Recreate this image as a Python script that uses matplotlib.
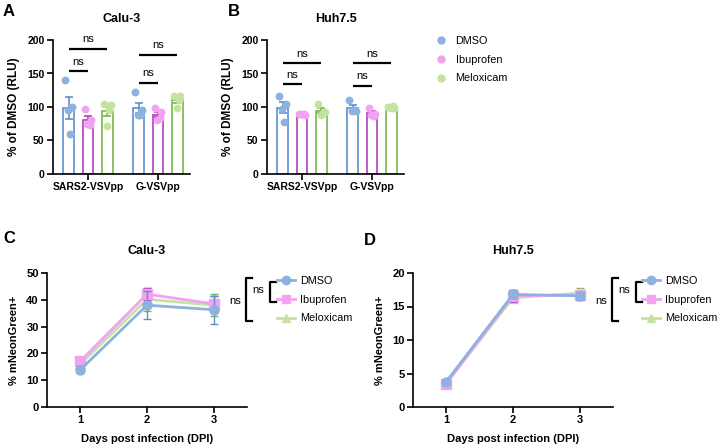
import numpy as np
import matplotlib
matplotlib.use("Agg")
import matplotlib.pyplot as plt
from matplotlib.lines import Line2D

plt.rcParams['font.family'] = ['Liberation Sans', 'DejaVu Sans']

# ---- datos ----
treatments = ["DMSO", "Ibuprofen", "Meloxicam"]
groups = ["SARS2-VSVpp", "G-VSVpp"]

# puntos individuales (% of DMSO, RLU), [DMSO, Ibuprofen, Meloxicam]
calu3_sars2 = [[140, 100, 96, 60], [97, 80, 75, 73], [104, 103, 72, 95]]
calu3_g = [[122, 96, 88, 88], [98, 92, 80, 84], [116, 116, 98, 111]]
huh_sars2 = [[117, 105, 97, 78], [89, 88, 89, 90], [105, 93, 88, 91]]
huh_g = [[111, 94, 94, 96], [99, 89, 88, 87], [100, 99, 98, 102]]

# alturas de las lineas de significancia [largo, corto] por grupo
calu3_sig = [[187, 153], [178, 136]]
huh_sig = [[165, 134], [165, 132]]

days = [1, 2, 3]
calu3_dmso = [13.9, 38.0, 36.3]
calu3_dmso_err = [1.3, 5.3, 5.3]
calu3_ibu = [17.1, 42.1, 38.5]
calu3_ibu_err = [1.5, 2.2, 3.0]
calu3_melox = [16.0, 40.2, 38.0]
calu3_melox_err = [2.8, 4.3, 4.1]

huh_dmso = [3.8, 16.8, 16.6]
huh_dmso_err = [0.3, 0.6, 0.6]
huh_ibu = [3.5, 16.6, 16.7]
huh_ibu_err = [0.3, 0.9, 0.6]
huh_melox = [3.6, 16.3, 17.0]
huh_melox_err = [0.3, 0.7, 0.7]

# ---- estilo ----
light = ["#8db2e0", "#f2a2f0", "#c4e3a0"]
dark = ["#5d8fcc", "#b040bf", "#76b84a"]
markers = ["o", "s", "^"]
jitter = [-0.16, 0.16, -0.04, 0.1]
W, H = 720, 444


def fig_xy(x, y):
    return x / W, 1 - y / H


def style_axes(ax, size):
    for s in ["top", "right"]:
        ax.spines[s].set_visible(False)
    for s in ["left", "bottom"]:
        ax.spines[s].set_linewidth(1.2)
    ax.tick_params(width=1.2, length=4, labelsize=size, pad=2)
    for lab in ax.get_xticklabels() + ax.get_yticklabels():
        lab.set_fontweight("bold")


def bar_panel(ax, data_groups, sig, title):
    centers = [0, 3.6]
    for gi, g in enumerate(data_groups):
        for ti, pts in enumerate(g):
            x = centers[gi] + (ti - 1)
            pts = np.array(pts, dtype=float)
            m = pts.mean()
            sem = pts.std(ddof=1) / np.sqrt(len(pts))
            ax.bar(x, m, width=0.53, facecolor="white", edgecolor=dark[ti], linewidth=1.2, zorder=2)
            ax.errorbar(x, m, yerr=sem, color=dark[ti], capsize=3, capthick=1.2, elinewidth=1.2, zorder=3)
            ax.scatter(x + np.array(jitter), pts, s=32, color=light[ti], zorder=4, linewidths=0)
        x0 = centers[gi] - 1
        for h, x1 in zip(sig[gi], [centers[gi] + 1, centers[gi]]):
            ax.plot([x0, x1], [h, h], color="black", lw=1.6, solid_capstyle="butt", clip_on=False)
            ax.text((x0 + x1) / 2, h + 7, "ns", ha="center", va="bottom", fontsize=8)
    ax.set_xlim(-1.8, 5.25)
    ax.set_ylim(0, 200)
    ax.set_yticks([0, 50, 100, 150, 200])
    ax.set_xticks(centers)
    ax.set_xticklabels(groups)
    ax.set_ylabel("% of DMSO (RLU)", fontsize=8.5, fontweight="bold", labelpad=5)
    ax.set_title(title, fontsize=9, fontweight="bold", pad=13)
    style_axes(ax, 7.5)


def line_panel(ax, vals, errs, ylim, yticks, title):
    for i in [2, 1, 0]:
        ax.errorbar(days, vals[i], yerr=errs[i], color=light[i], ecolor=dark[i], marker=markers[i],
                    markersize=6.5, lw=2, elinewidth=1, capsize=3, capthick=1, label=treatments[i],
                    zorder=3 + (2 - i))
    ax.set_xlim(0.5, 3.5)
    ax.set_ylim(*ylim)
    ax.set_yticks(yticks)
    ax.set_xticks(days)
    ax.set_xlabel("Days post infection (DPI)", fontsize=8, fontweight="bold", labelpad=6)
    ax.set_ylabel("% mNeonGreen+", fontsize=8, fontweight="bold", labelpad=5)
    ax.set_title(title, fontsize=9, fontweight="bold", pad=14)
    style_axes(ax, 8)


def brackets(fig, xo):
    # corchetes de significancia al lado de la leyenda (pixeles de figura)
    kw = dict(color="black", lw=1.6, transform=fig.transFigure)
    for xs, ys in [([276 + xo, 270 + xo, 270 + xo, 276 + xo], [282, 282, 302, 302]),
                   ([252 + xo, 246 + xo, 246 + xo, 252 + xo], [278, 278, 321, 321])]:
        pts = [fig_xy(a, b) for a, b in zip(xs, ys)]
        fig.add_artist(Line2D([p[0] for p in pts], [p[1] for p in pts], **kw))
    fig.text(*fig_xy(258 + xo, 290), "ns", ha="center", va="center", fontsize=8)
    fig.text(*fig_xy(235 + xo, 301), "ns", ha="center", va="center", fontsize=8)


fig = plt.figure(figsize=(7.2, 4.44), dpi=100)

ax_a = fig.add_axes([53 / W, 1 - 174 / H, 137 / W, 134 / H])
ax_b = fig.add_axes([267 / W, 1 - 174 / H, 137 / W, 134 / H])
ax_c = fig.add_axes([47 / W, 1 - 407 / H, 200 / W, 134 / H])
ax_d = fig.add_axes([413 / W, 1 - 407 / H, 200 / W, 134 / H])

bar_panel(ax_a, [calu3_sars2, calu3_g], calu3_sig, "Calu-3")
bar_panel(ax_b, [huh_sars2, huh_g], huh_sig, "Huh7.5")

handles = [Line2D([], [], ls="", marker="o", markersize=5, color=c) for c in light]
fig.legend(handles, treatments, loc="upper left", bbox_to_anchor=fig_xy(435, 36), frameon=False,
           fontsize=7.8, handlelength=1.1, handletextpad=0.8, labelspacing=0.8,
           borderpad=0, borderaxespad=0)

line_panel(ax_c, [calu3_dmso, calu3_ibu, calu3_melox], [calu3_dmso_err, calu3_ibu_err, calu3_melox_err],
           (0, 50), [0, 10, 20, 30, 40, 50], "Calu-3")
line_panel(ax_d, [huh_dmso, huh_ibu, huh_melox], [huh_dmso_err, huh_ibu_err, huh_melox_err],
           (0, 20), [0, 5, 10, 15, 20], "Huh7.5")

for xo, x_leg in [(0, 277), (366, 642)]:
    hh = [Line2D([], [], color=light[i], marker=markers[i], markersize=6, lw=2) for i in range(3)]
    fig.legend(hh, treatments, loc="upper left", bbox_to_anchor=fig_xy(x_leg, 276), frameon=False,
               fontsize=7.8, handlelength=1.7, handletextpad=0.45, labelspacing=0.8,
               borderpad=0, borderaxespad=0)
    brackets(fig, xo)

for lab, x, y in [("A", 9, 12), ("B", 234, 12), ("C", 9, 238), ("D", 370, 240)]:
    fig.text(*fig_xy(x, y), lab, fontsize=12, fontweight="bold", ha="center", va="center")

fig.savefig("out.png", dpi=100)
